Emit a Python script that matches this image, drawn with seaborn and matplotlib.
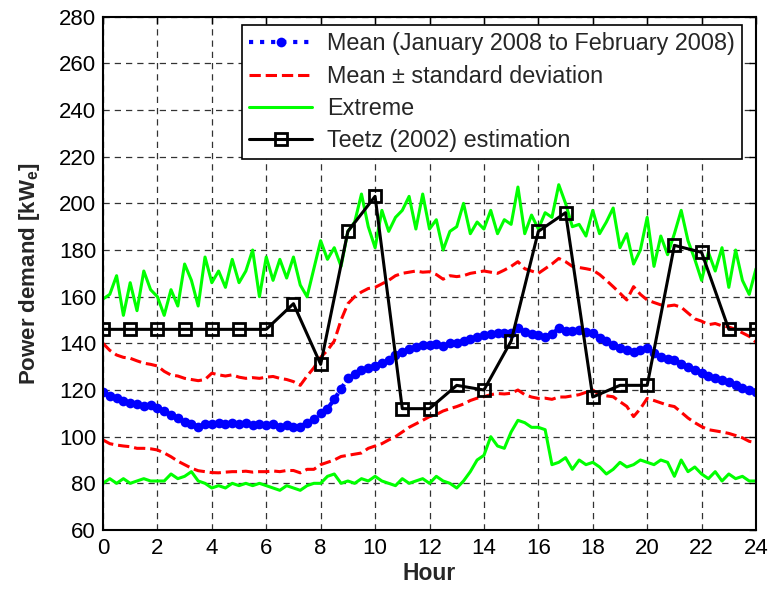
import numpy as np
import pandas as pd
import matplotlib
matplotlib.use("Agg")
import matplotlib.pyplot as plt
import seaborn as sns

# ---- data -----------------------------------------------------------------
hours = np.linspace(0, 24, 97)          # 15-minute grid
teetz_hours = list(range(0, 25))

mean_demand = [
    119.3, 117.5, 116.4, 115.5, 114.6, 114.0, 113.2, 113.5, 112.2, 110.8,
    109.3, 108.0, 106.4, 105.5, 104.3, 105.5, 105.4, 106.0, 105.5, 105.8,
    105.6, 105.8, 105.0, 105.3, 104.8, 105.3, 104.3, 104.8, 104.0, 104.3,
    106.0, 107.5, 110.0, 112.0, 116.0, 120.5, 125.0, 127.0, 128.5, 129.3,
    130.5, 131.5, 132.9, 134.8, 136.4, 137.5, 138.5, 139.2, 139.3, 139.8,
    139.0, 140.3, 140.3, 141.0, 141.8, 142.8, 143.6, 144.2, 144.5, 144.3,
    144.5, 146.4, 145.0, 144.0, 143.6, 142.9, 144.0, 146.4, 145.5, 145.4,
    145.8, 145.0, 144.6, 142.5, 141.0, 139.3, 138.0, 137.1, 136.4, 137.2,
    137.9, 136.0, 134.3, 133.5, 132.9, 131.3, 130.0, 128.5, 127.2, 126.0,
    125.0, 124.2, 123.6, 122.0, 120.7, 120.0, 119.3,
]

mean_plus_std = [
    140.0, 137.0, 135.0, 134.0, 133.6, 132.5, 131.5, 131.0, 130.3, 128.0,
    126.4, 126.0, 125.0, 124.5, 124.0, 124.5, 127.2, 126.5, 126.0, 126.5,
    125.5, 125.0, 125.3, 125.0, 125.5, 125.8, 125.0, 124.5, 123.6, 122.0,
    126.0, 129.5, 134.0, 137.0, 141.0, 150.0, 157.0, 160.0, 162.0, 163.5,
    164.0, 165.5, 167.0, 169.0, 170.0, 170.5, 171.0, 170.5, 170.7, 169.5,
    167.5, 169.0, 168.6, 169.0, 170.0, 170.5, 171.0, 170.5, 170.0, 171.4,
    173.0, 175.0, 172.0, 171.0, 170.0, 172.0, 174.0, 176.4, 175.0, 173.0,
    172.5, 172.0, 171.4, 169.5, 167.0, 164.3, 161.5, 158.6, 164.3, 161.0,
    158.6, 157.5, 156.5, 156.0, 156.4, 155.5, 153.0, 150.5, 149.5, 148.0,
    148.5, 147.5, 147.0, 146.0, 144.5, 143.0, 140.5,
]

mean_minus_std = [
    98.6, 97.0, 96.4, 96.0, 95.7, 95.0, 95.0, 94.8, 94.3, 93.0,
    91.4, 89.5, 88.0, 86.5, 85.4, 85.0, 84.6, 84.5, 84.8, 85.0,
    85.0, 85.2, 84.8, 85.0, 85.0, 85.3, 85.0, 85.5, 85.5, 84.5,
    86.0, 86.0, 88.0, 89.0, 90.0, 91.5, 92.0, 92.5, 93.0, 95.0,
    96.0, 97.0, 98.6, 100.0, 102.0, 104.0, 105.5, 107.0, 108.6, 109.5,
    111.0, 112.0, 112.9, 114.0, 115.5, 116.5, 117.1, 118.0, 118.5, 118.3,
    118.6, 120.0, 118.0, 117.0, 116.4, 116.5, 116.0, 117.0, 117.0, 117.5,
    118.0, 119.0, 120.0, 118.0, 117.5, 117.1, 115.0, 113.0, 108.6, 112.0,
    116.4, 115.5, 114.5, 113.5, 112.9, 110.5, 108.0, 106.0, 104.3, 103.0,
    102.5, 102.0, 101.4, 100.5, 99.5, 98.0, 97.4,
]

extreme_max = [
    159, 161, 169, 152, 166, 154, 171, 163, 160, 152,
    163, 156, 174, 167, 156, 177, 166, 171, 164, 176,
    166, 171, 180, 160, 177, 167, 176, 168, 177, 165,
    160, 172, 184, 176, 181, 173, 188, 192, 204, 190,
    181, 197, 188, 194, 197, 203, 189, 204, 189, 193,
    180, 188, 190, 200, 187, 192, 189, 197, 187, 193,
    191, 207, 187, 195, 189, 196, 194, 208, 200, 190,
    191, 186, 197, 187, 192, 198, 181, 187, 174, 180,
    194, 173, 186, 178, 187, 197, 184, 176, 167, 179,
    171, 181, 164, 180, 167, 161, 172,
]

extreme_min = [
    80, 82, 80, 82, 80, 81, 82, 81, 81, 81,
    84, 82, 83, 85, 81, 80, 78, 79, 78, 80,
    79, 80, 79, 80, 79, 78, 77, 79, 78, 77,
    79, 80, 80, 83, 84, 80, 81, 80, 82, 81,
    83, 81, 80, 79, 82, 80, 81, 82, 80, 83,
    81, 80, 78, 81, 85, 90, 92, 100, 96, 95,
    102, 107, 106, 104, 104, 103, 88, 89, 91, 86,
    90, 88, 89, 87, 84, 86, 89, 87, 88, 90,
    89, 88, 90, 89, 83, 90, 85, 87, 84, 82,
    85, 81, 84, 82, 83, 81, 81,
]

teetz = [146, 146, 146, 146, 146, 146, 146, 157, 131, 188, 203, 112, 112,
         122, 120, 141, 188, 196, 117, 122, 122, 182, 179, 146, 146]

x_ticks = list(range(0, 25, 2))
y_ticks = list(range(60, 281, 20))

# ---- style ----------------------------------------------------------------
sns.set_theme(style="white")
plt.rcParams["font.family"] = ["Liberation Sans", "DejaVu Sans"]
plt.rcParams["mathtext.fontset"] = "custom"
plt.rcParams["mathtext.bf"] = "Liberation Sans:bold"
plt.rcParams["mathtext.rm"] = "Liberation Sans"

fig = plt.figure(figsize=(7.72, 5.89), dpi=100)
ax = fig.add_axes([0.1334, 0.1002, 0.8459, 0.8714])

sns.lineplot(x=hours, y=mean_demand, ax=ax, color="#0000ff", linestyle=":",
             linewidth=3, marker="o", markersize=7, markeredgewidth=0,
             label="Mean (January 2008 to February 2008)")
sns.lineplot(x=hours, y=mean_plus_std, ax=ax, color="#ff0000", linestyle="--",
             linewidth=2.2, label="Mean \u00b1 standard deviation")
sns.lineplot(x=hours, y=mean_minus_std, ax=ax, color="#ff0000", linestyle="--",
             linewidth=2.2, label="_nolegend_")
sns.lineplot(x=hours, y=extreme_max, ax=ax, color="#00ff00", linewidth=2.2,
             label="Extreme")
sns.lineplot(x=hours, y=extreme_min, ax=ax, color="#00ff00", linewidth=2.2,
             label="_nolegend_")
sns.lineplot(x=teetz_hours, y=teetz, ax=ax, color="black", linewidth=2.2,
             marker="s", markersize=8.5, markerfacecolor="none",
             markeredgecolor="black", markeredgewidth=2,
             label="Teetz (2002) estimation")

ax.set_xlim(0, 24)
ax.set_ylim(60, 280)
ax.set_xticks(x_ticks)
ax.set_yticks(y_ticks)
ax.tick_params(direction="in", length=5, width=1, top=True, right=True,
               labelsize=16, colors="black")
ax.tick_params(axis="x", pad=6)
ax.tick_params(axis="y", pad=5)
ax.grid(True, color="#333333", linestyle=(0, (5, 4)), linewidth=0.9)
for s in ax.spines.values():
    s.set_color("black")
    s.set_linewidth(1.5)

ax.set_xlabel("Hour", fontsize=16.5, fontweight="bold", labelpad=2)
ax.set_ylabel("Power demand [kW$_\\mathbf{e}$]", fontsize=16,
              fontweight="bold", labelpad=12)

leg = ax.legend(loc="upper right", bbox_to_anchor=(0.979, 0.983),
                fontsize=16.8, frameon=True, fancybox=False,
                edgecolor="black", framealpha=1, borderaxespad=0.0,
                handlelength=2.7, labelspacing=0.4, borderpad=0.3,
                handletextpad=0.65)
leg.get_frame().set_linewidth(1.2)

fig.savefig("out.png", dpi=100)
